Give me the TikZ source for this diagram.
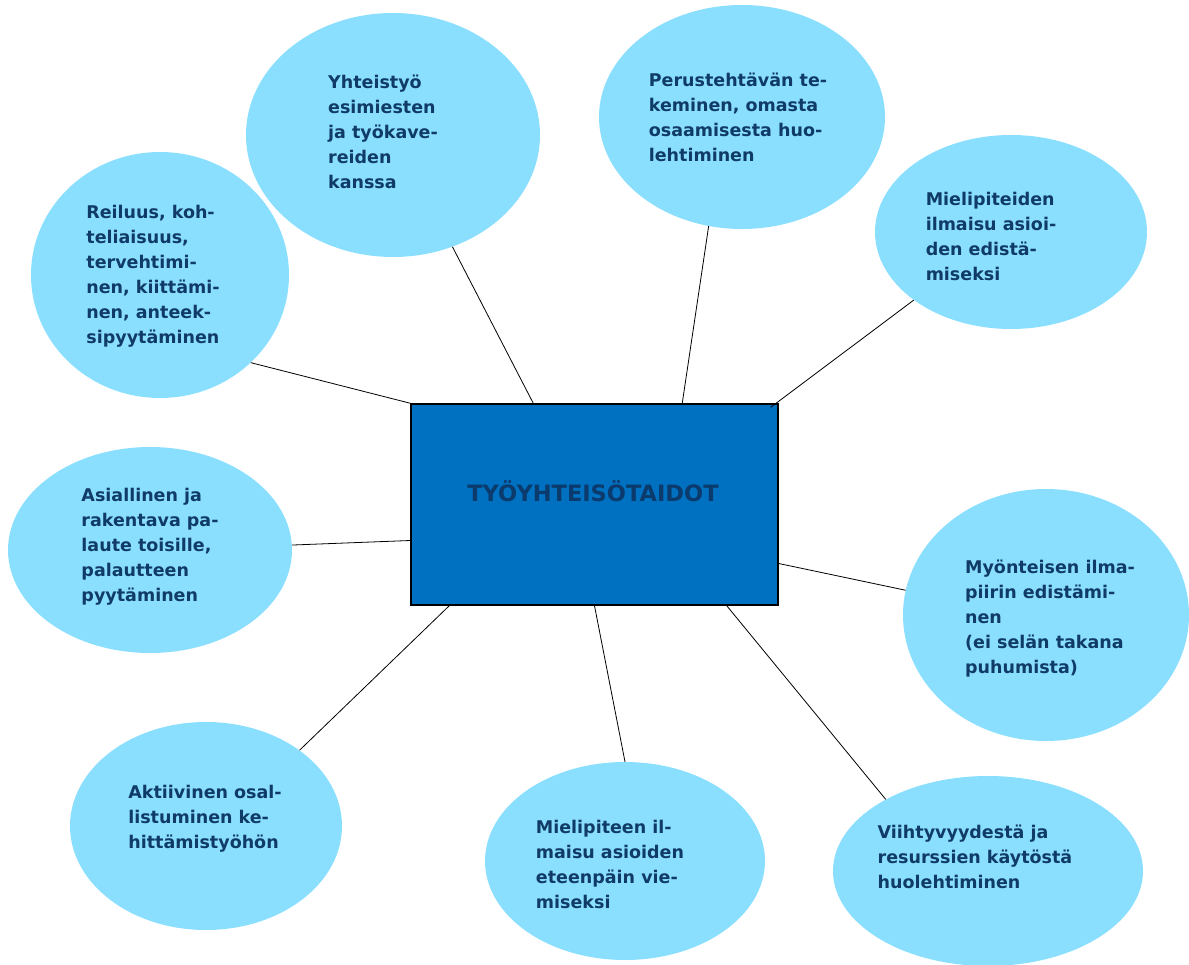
\documentclass[tikz,border=0pt]{standalone}
\usepackage{fontspec}
\setmainfont{DejaVu Sans}
\usetikzlibrary{shapes.geometric}
\definecolor{bubblue}{HTML}{8ADFFF}
\definecolor{boxblue}{HTML}{0070C0}
\definecolor{inkblue}{HTML}{0F3B66}
\definecolor{titleblue}{HTML}{0B3A6C}

\begin{document}
\begin{tikzpicture}[
    x=1pt, y=-1pt,
    bubble/.style={ellipse, fill=bubblue, inner sep=0pt},
    bubtext/.style={align=left, text=inkblue, font=\fontsize{17.5}{25}\selectfont\bfseries},
    hub/.style={draw=black, line width=1.5pt, fill=boxblue, minimum width=367pt, minimum height=201pt, inner sep=0pt},
    hubtitle/.style={text=titleblue, font=\fontsize{22.5}{25}\selectfont\bfseries},
    link/.style={draw=black, line width=0.8pt},
]
    \useasboundingbox (0,0) rectangle (1189,965);

    %node
    \node[hub] (box) at (594.5,504.5) {};
    \node[hubtitle] (title) at (593,491) {TYÖYHTEISÖTAIDOT};

    \node[bubble, minimum width=294pt, minimum height=244pt] (yhteistyo) at (393,135) {};
    \node[bubble, minimum width=286pt, minimum height=224pt] (perus) at (742,117) {};
    \node[bubble, minimum width=272pt, minimum height=194pt] (mielipiteiden) at (1011,232) {};
    \node[bubble, minimum width=258pt, minimum height=246pt] (reiluus) at (160,275) {};
    \node[bubble, minimum width=284pt, minimum height=206pt] (asiallinen) at (150,550) {};
    \node[bubble, minimum width=286pt, minimum height=252pt] (myonteinen) at (1046,615) {};
    \node[bubble, minimum width=272pt, minimum height=208pt] (aktiivinen) at (206,826) {};
    \node[bubble, minimum width=280pt, minimum height=198pt] (mielipiteen) at (625,861) {};
    \node[bubble, minimum width=310pt, minimum height=190pt] (viihtyvyys) at (988,871) {};

    \node[bubtext] (yhteistyo-t) at (383,132) {Yhteistyö\\esimiesten\\ja työkave-\\reiden\\kanssa};
    \node[bubtext] (perus-t) at (738,117) {Perustehtävän te-\\keminen, omasta\\osaamisesta huo-\\lehtiminen};
    \node[bubtext] (mielipiteiden-t) at (991,236) {Mielipiteiden\\ilmaisu asioi-\\den edistä-\\miseksi};
    \node[bubtext] (reiluus-t) at (153,276) {Reiluus, koh-\\teliaisuus,\\tervehtimi-\\nen, kiittämi-\\nen, anteek-\\sipyytäminen};
    \node[bubtext] (asiallinen-t) at (150,547) {Asiallinen ja\\rakentava pa-\\laute toisille,\\palautteen\\pyytäminen};
    \node[bubtext] (myonteinen-t) at (1050,619) {Myönteisen ilma-\\piirin edistämi-\\nen\\(ei selän takana\\puhumista)};
    \node[bubtext] (aktiivinen-t) at (205,819) {Aktiivinen osal-\\listuminen ke-\\hittämistyöhön};
    \node[bubtext] (mielipiteen-t) at (610,864) {Mielipiteen il-\\maisu asioiden\\eteenpäin vie-\\miseksi};
    \node[bubtext] (viihtyvyys-t) at (975,857) {Viihtyvyydestä ja\\resurssien käytöstä\\huolehtiminen};

    %lines
    \draw[link] (box.north west) -- (reiluus.316);
    \draw[link] ([xshift=123pt]box.north west) -- (yhteistyo.298);
    \draw[link] ([xshift=272pt]box.north west) -- (perus.253);
    \draw[link] ([xshift=-8pt,yshift=-4pt]box.north east) -- (mielipiteiden.215);
    \draw[link] ([yshift=-36pt]box.west) -- (asiallinen.2.5);
    \draw[link] ([yshift=-59pt]box.east) -- (myonteinen.170);
    \draw[link] ([xshift=39pt]box.south west) -- (aktiivinen.39);
    \draw[link] (box.south) -- (mielipiteen.90);
    \draw[link] ([xshift=-52pt]box.south east) -- (viihtyvyys.145);
\end{tikzpicture}
\end{document}
